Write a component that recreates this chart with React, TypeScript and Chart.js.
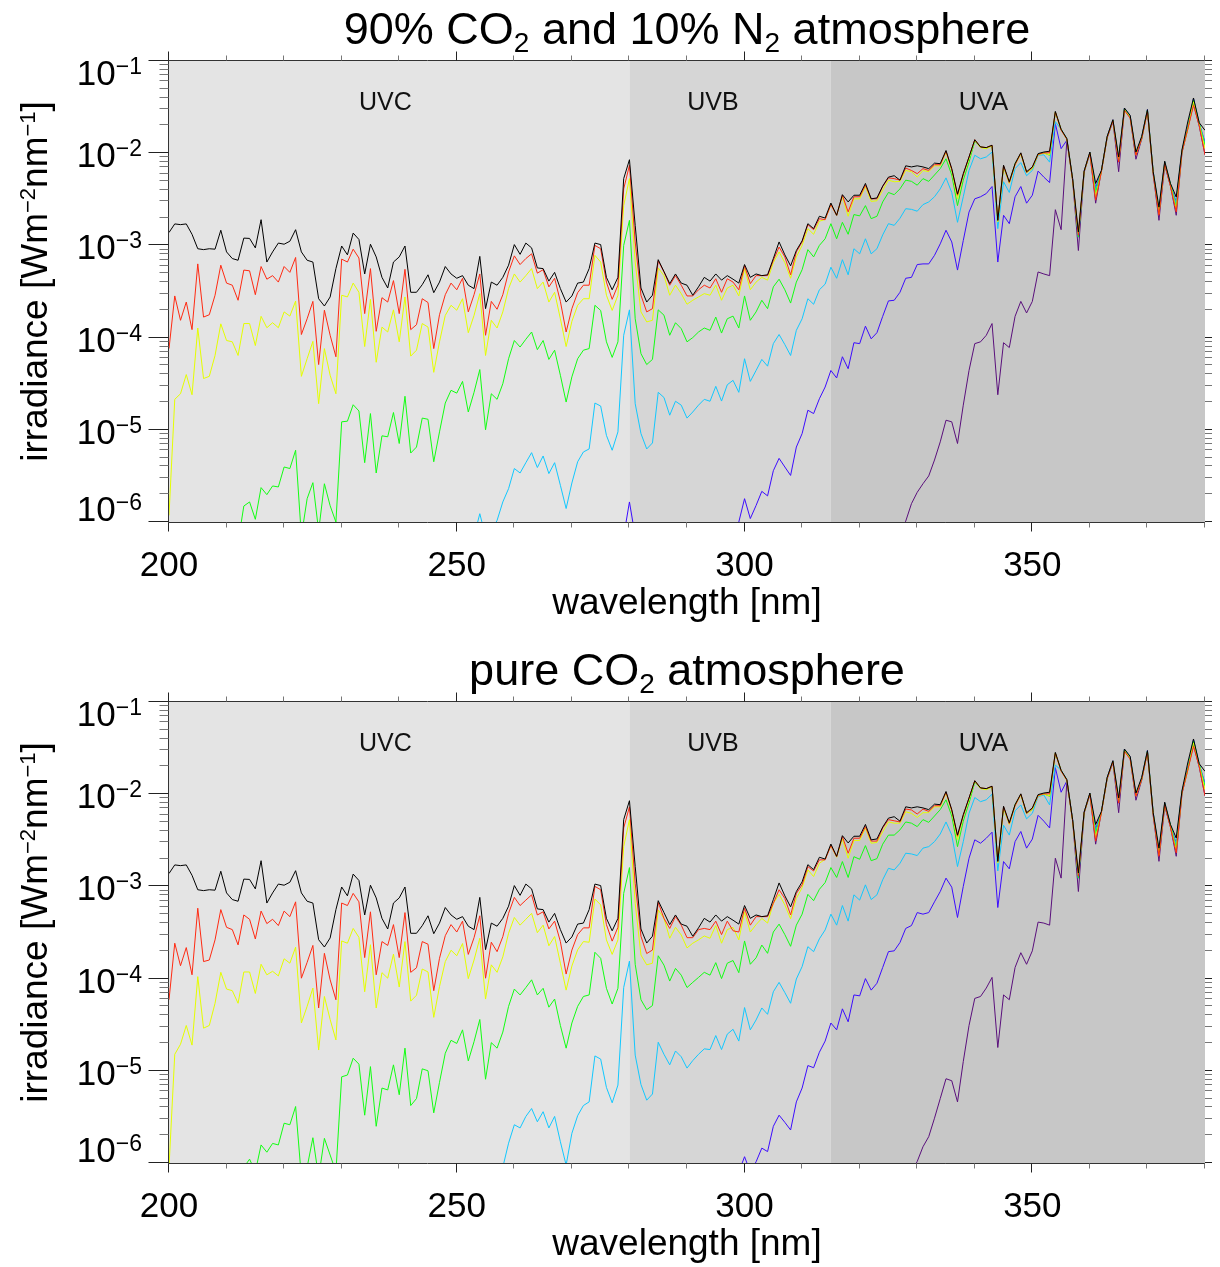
import React, { useEffect, useRef } from "react";
import { Chart, registerables } from "chart.js";

Chart.register(...registerables);

const FONT = '"Liberation Sans", Arial, Helvetica, sans-serif';

// ---------------- data ----------------
const WAVELENGTHS = [
  200, 201, 202, 203, 204, 205, 206, 207, 208, 209,
  210, 211, 212, 213, 214, 215, 216, 217, 218, 219,
  220, 221, 222, 223, 224, 225, 226, 227, 228, 229,
  230, 231, 232, 233, 234, 235, 236, 237, 238, 239,
  240, 241, 242, 243, 244, 245, 246, 247, 248, 249,
  250, 251, 252, 253, 254, 255, 256, 257, 258, 259,
  260, 261, 262, 263, 264, 265, 266, 267, 268, 269,
  270, 271, 272, 273, 274, 275, 276, 277, 278, 279,
  280, 281, 282, 283, 284, 285, 286, 287, 288, 289,
  290, 291, 292, 293, 294, 295, 296, 297, 298, 299,
  300, 301, 302, 303, 304, 305, 306, 307, 308, 309,
  310, 311, 312, 313, 314, 315, 316, 317, 318, 319,
  320, 321, 322, 323, 324, 325, 326, 327, 328, 329,
  330, 331, 332, 333, 334, 335, 336, 337, 338, 339,
  340, 341, 342, 343, 344, 345, 346, 347, 348, 349,
  350, 351, 352, 353, 354, 355, 356, 357, 358, 359,
  360, 361, 362, 363, 364, 365, 366, 367, 368, 369,
  370, 371, 372, 373, 374, 375, 376, 377, 378, 379,
  380,
];

// top-of-atmosphere spectrum (black), identical in both panels, from 200 nm
const TOA = [
  1.38e-3, 1.71e-3, 1.68e-3, 1.71e-3, 1.32e-3, 9.2e-4, 9.0e-4, 9.2e-4, 9.1e-4, 1.46e-3,
  8.5e-4, 7.2e-4, 6.9e-4, 1.2e-3, 1.19e-3, 9.4e-4, 1.9e-3, 6.6e-4, 8.5e-4, 1.06e-3,
  1.03e-3, 1.11e-3, 1.48e-3, 8.5e-4, 6.9e-4, 6.6e-4, 2.64e-4, 2.2e-4, 2.76e-4, 5.6e-4,
  9.85e-4, 7.9e-4, 1.36e-3, 1.16e-3, 4.9e-4, 1.03e-3, 7.5e-4, 4.5e-4, 3.45e-4, 6.6e-4,
  7.5e-4, 9.85e-4, 3.1e-4, 3.1e-4, 3.75e-4, 4.8e-4, 3.07e-4, 4.0e-4, 5.9e-4, 4.9e-4,
  4.4e-4, 4.7e-4, 3.7e-4, 3.4e-4, 7.6e-4, 2.06e-4, 4.0e-4, 3.7e-4, 4.5e-4, 6.1e-4,
  1.02e-3, 8.0e-4, 1.06e-3, 9.4e-4, 5.7e-4, 5.6e-4, 4.1e-4, 5.1e-4, 3.4e-4, 2.43e-4,
  2.83e-4, 3.9e-4, 4.0e-4, 5.6e-4, 1.06e-3, 1.02e-3, 4.5e-4, 3.3e-4, 4.5e-4, 5.3e-3,
  8.5e-3, 1.65e-3, 3.45e-4, 2.43e-4, 2.88e-4, 7.0e-4, 5.2e-4, 3.85e-4, 4.9e-4, 3.9e-4,
  3.7e-4, 2.88e-4, 3.55e-4, 4.5e-4, 4.1e-4, 4.9e-4, 4.2e-4, 4.7e-4, 4.3e-4, 3.9e-4,
  6.2e-4, 4.5e-4, 4.9e-4, 4.7e-4, 4.8e-4, 7.2e-4, 1.09e-3, 7.9e-4, 6.0e-4, 8.8e-4,
  1.12e-3, 1.72e-3, 1.52e-3, 2.07e-3, 1.98e-3, 2.88e-3, 2.12e-3, 3.55e-3, 2.96e-3, 3.5e-3,
  3.5e-3, 4.7e-3, 3.2e-3, 3.27e-3, 4.4e-3, 5.5e-3, 5.7e-3, 5.1e-3, 7.3e-3, 7.1e-3,
  7.3e-3, 7.1e-3, 6.8e-3, 7.8e-3, 7.7e-3, 1.07e-2, 6.8e-3, 3.6e-3, 6.0e-3, 9.1e-3,
  1.4e-2, 1.17e-2, 1.15e-2, 1.22e-2, 1.87e-3, 7.4e-3, 4.9e-3, 7.7e-3, 1.01e-2, 6.3e-3,
  7.1e-3, 9.9e-3, 1.03e-2, 1.05e-2, 2.84e-2, 1.82e-2, 1.44e-2, 5.3e-3, 1.4e-3, 6.4e-3,
  1.03e-2, 4.7e-3, 6.5e-3, 1.52e-2, 2.31e-2, 9.1e-3, 3.09e-2, 2.57e-2, 1.03e-2, 1.52e-2,
  2.97e-2, 6.3e-3, 2.6e-3, 8.2e-3, 4.7e-3, 3.35e-3, 1.09e-2, 2.18e-2, 3.97e-2, 2.14e-2,
  1.77e-2,
];

// ---- 90% CO2 / 10% N2 panel ----
const N2_RED_FROM = 200;
const N2_RED = [
  7.6e-5, 2.83e-4, 1.54e-4, 2.43e-4, 1.22e-4, 6.3e-4, 1.67e-4, 1.77e-4, 2.88e-4, 6.1e-4,
  3.9e-4, 3.7e-4, 2.54e-4, 5.4e-4, 5.3e-4, 2.92e-4, 5.9e-4, 4.3e-4, 4.7e-4, 4.0e-4,
  5.9e-4, 5.1e-4, 7.4e-4, 1.08e-4, 1.6e-4, 2.47e-4, 5.1e-5, 1.98e-4, 1.06e-4, 6.2e-5,
  7.1e-4, 6.6e-4, 9.1e-4, 7.3e-4, 1.82e-4, 5.6e-4, 1.17e-4, 2.71e-4, 2.43e-4, 4.15e-4,
  1.82e-4, 5.5e-4, 1.22e-4, 1.38e-4, 2.64e-4, 2.4e-4, 7.6e-5, 1.77e-4, 2.92e-4, 3.9e-4,
  3.3e-4, 4.4e-4, 1.9e-4, 2.92e-4, 4.9e-4, 1.06e-4, 2.47e-4, 2.03e-4, 2.92e-4, 5.15e-4,
  7.7e-4, 6.2e-4, 7.2e-4, 8.1e-4, 5.0e-4, 5.45e-4, 3.55e-4, 4.4e-4, 2.47e-4, 1.15e-4,
  2.06e-4, 3.07e-4, 3.7e-4, 3.7e-4, 1.0e-3, 9.2e-4, 4.0e-4, 2.6e-4, 3.7e-4, 4.1e-3,
  7.4e-3, 1.09e-3, 2.88e-4, 1.9e-4, 2.06e-4, 6.8e-4, 5.15e-4, 3.7e-4, 4.7e-4, 3.7e-4,
  2.83e-4, 2.83e-4, 3.3e-4, 3.7e-4, 3.45e-4, 4.35e-4, 3.1e-4, 4.35e-4, 4.0e-4, 3.3e-4,
  6.0e-4, 3.85e-4, 4.7e-4, 4.7e-4, 4.7e-4, 6.9e-4, 9.6e-4, 7.5e-4, 4.8e-4, 8.5e-4,
  1.09e-3, 1.68e-3, 1.48e-3, 1.95e-3, 1.9e-3, 2.77e-3, 2.12e-3, 3.5e-3, 2.31e-3, 3.37e-3,
  3.37e-3, 4.5e-3, 3.2e-3, 3.2e-3, 4.35e-3, 5.4e-3, 5.3e-3, 5.1e-3, 6.9e-3, 6.5e-3,
  6.0e-3, 6.8e-3, 6.5e-3, 7.5e-3, 7.5e-3, 1.05e-2, 6.7e-3, 3.5e-3, 5.85e-3, 9.1e-3,
  1.4e-2, 1.17e-2, 1.15e-2, 1.22e-2, 1.87e-3, 7.3e-3, 4.8e-3, 7.5e-3, 1.0e-2, 6.2e-3,
  7.0e-3, 9.7e-3, 1.01e-2, 1.01e-2, 2.8e-2, 1.78e-2, 1.42e-2, 5.1e-3, 1.29e-3, 6.3e-3,
  1.0e-2, 3.1e-3, 6.3e-3, 1.48e-2, 2.24e-2, 8.0e-3, 2.92e-2, 2.4e-2, 9.5e-3, 1.44e-2,
  2.84e-2, 6.0e-3, 2.12e-3, 7.7e-3, 4.4e-3, 2.31e-3, 1.03e-2, 1.82e-2, 3.3e-2, 2.0e-2,
  9.6e-3,
];

const N2_YELLOW_FROM = 200;
const N2_YELLOW = [
  1.18e-6, 2.14e-5, 2.46e-5, 3.97e-5, 2.4e-5, 1.27e-4, 3.6e-5, 3.8e-5, 6.4e-5, 1.41e-4,
  9.3e-5, 9.0e-5, 6.4e-5, 1.42e-4, 1.42e-4, 8.2e-5, 1.7e-4, 1.28e-4, 1.45e-4, 1.28e-4,
  1.9e-4, 1.71e-4, 2.49e-4, 3.8e-5, 5.9e-5, 9.1e-5, 1.92e-5, 7.6e-5, 3.9e-5, 2.46e-5,
  2.88e-4, 2.76e-4, 3.9e-4, 3.1e-4, 8.0e-5, 2.6e-4, 5.4e-5, 1.3e-4, 1.15e-4, 2.0e-4,
  9.0e-5, 2.76e-4, 6.3e-5, 7.3e-5, 1.42e-4, 1.3e-4, 4.2e-5, 9.0e-5, 1.74e-4, 2.24e-4,
  1.98e-4, 2.64e-4, 1.13e-4, 1.74e-4, 3.0e-4, 6.4e-5, 1.54e-4, 1.27e-4, 1.9e-4, 3.4e-4,
  4.9e-4, 4.0e-4, 4.7e-4, 5.6e-4, 3.4e-4, 4.0e-4, 2.43e-4, 3.1e-4, 1.6e-4, 8.0e-5,
  1.5e-4, 2.24e-4, 2.64e-4, 2.64e-4, 7.8e-4, 6.6e-4, 2.88e-4, 1.97e-4, 2.88e-4, 2.7e-3,
  5.3e-3, 6.6e-4, 1.9e-4, 1.48e-4, 1.54e-4, 5.7e-4, 4.7e-4, 2.88e-4, 3.7e-4, 3.0e-4,
  2.3e-4, 2.54e-4, 2.76e-4, 3.0e-4, 2.88e-4, 3.7e-4, 2.54e-4, 3.45e-4, 3.7e-4, 2.83e-4,
  5.6e-4, 3.3e-4, 4.0e-4, 4.5e-4, 4.2e-4, 6.5e-4, 8.5e-4, 6.5e-4, 4.4e-4, 7.5e-4,
  1.0e-3, 1.52e-3, 1.32e-3, 1.83e-3, 1.91e-3, 2.77e-3, 2.12e-3, 3.37e-3, 2.07e-3, 3.2e-3,
  3.2e-3, 4.35e-3, 3.0e-3, 3.05e-3, 3.97e-3, 5.1e-3, 4.9e-3, 4.95e-3, 6.5e-3, 6.3e-3,
  5.5e-3, 6.5e-3, 6.3e-3, 7.3e-3, 7.3e-3, 1.03e-2, 6.5e-3, 3.2e-3, 5.8e-3, 8.7e-3,
  1.38e-2, 1.15e-2, 1.12e-2, 1.2e-2, 1.8e-3, 7.1e-3, 4.7e-3, 7.5e-3, 9.8e-3, 6.2e-3,
  6.8e-3, 9.6e-3, 1.0e-2, 9.6e-3, 2.8e-2, 1.8e-2, 1.42e-2, 5.1e-3, 1.33e-3, 6.3e-3,
  1.01e-2, 3.37e-3, 6.3e-3, 1.49e-2, 2.26e-2, 8.1e-3, 2.97e-2, 2.45e-2, 9.6e-3, 1.45e-2,
  2.88e-2, 6.2e-3, 2.2e-3, 7.8e-3, 4.5e-3, 2.45e-3, 1.05e-2, 1.8e-2, 3.6e-2, 2.05e-2,
  1.12e-2,
];

const N2_GREEN_FROM = 212;
const N2_GREEN = [
  6e-7, 1.49e-6, 1.65e-6, 1.07e-6, 2.36e-6, 1.98e-6, 2.46e-6, 2.4e-6,
  3.95e-6, 3.8e-6, 6.0e-6, 7e-7, 1.79e-6, 2.67e-6, 8e-7, 2.6e-6, 1.5e-6, 1.0e-6,
  1.22e-5, 1.24e-5, 1.87e-5, 1.6e-5, 4.4e-6, 1.5e-5, 3.4e-6, 8.6e-6, 8.4e-6, 1.54e-5,
  7.1e-6, 2.31e-5, 5.6e-6, 6.5e-6, 1.34e-5, 1.3e-5, 4.5e-6, 9.5e-6, 1.95e-5, 2.68e-5,
  2.5e-5, 3.35e-5, 1.56e-5, 2.55e-5, 4.5e-5, 1.0e-5, 2.46e-5, 2.14e-5, 3.16e-5, 5.9e-5,
  9.3e-5, 7.9e-5, 9.6e-5, 1.15e-4, 7.4e-5, 9.3e-5, 5.8e-5, 7.3e-5, 3.9e-5, 2.0e-5,
  3.75e-5, 5.9e-5, 7.3e-5, 7.6e-5, 2.24e-4, 1.97e-4, 9.0e-5, 6.1e-5, 9.0e-5, 1.0e-3,
  1.87e-3, 1.6e-4, 6.7e-5, 5.1e-5, 5.8e-5, 2.0e-4, 1.75e-4, 1.06e-4, 1.45e-4, 1.25e-4,
  9.0e-5, 1.0e-4, 1.15e-4, 1.27e-4, 1.2e-4, 1.67e-4, 1.12e-4, 1.6e-4, 1.71e-4, 1.27e-4,
  2.83e-4, 1.54e-4, 1.9e-4, 2.54e-4, 2.06e-4, 3.55e-4, 4.3e-4, 3.3e-4, 2.37e-4, 4.0e-4,
  5.45e-4, 9.0e-4, 7.5e-4, 1.0e-3, 1.18e-3, 1.72e-3, 1.18e-3, 1.78e-3, 1.32e-3, 2.16e-3,
  2.09e-3, 2.7e-3, 1.95e-3, 2.07e-3, 2.96e-3, 3.75e-3, 3.55e-3, 4.1e-3, 5.1e-3, 4.95e-3,
  4.5e-3, 5.3e-3, 4.95e-3, 5.8e-3, 6.8e-3, 8.7e-3, 5.8e-3, 2.7e-3, 5.1e-3, 8.0e-3,
  1.35e-2, 1.17e-2, 1.14e-2, 1.2e-2, 1.87e-3, 7.1e-3, 4.8e-3, 7.7e-3, 9.9e-3, 6.2e-3,
  6.8e-3, 9.8e-3, 1.01e-2, 9.5e-3, 2.8e-2, 1.8e-2, 1.42e-2, 5.2e-3, 1.23e-3, 6.3e-3,
  1.01e-2, 3.75e-3, 6.4e-3, 1.49e-2, 2.26e-2, 8.5e-3, 2.98e-2, 2.47e-2, 9.8e-3, 1.46e-2,
  2.92e-2, 6.2e-3, 2.31e-3, 7.9e-3, 4.6e-3, 2.6e-3, 1.06e-2, 1.85e-2, 3.75e-2, 2.1e-2,
  1.22e-2,
];

const N2_CYAN_FROM = 253;
const N2_CYAN = [
  7e-7, 1.23e-6, 7e-7, 8e-7, 1.04e-6, 1.65e-6, 2.3e-6,
  3.8e-6, 3.4e-6, 4.4e-6, 5.65e-6, 3.9e-6, 5.2e-6, 3.35e-6, 4.4e-6, 2.5e-6, 1.4e-6,
  2.65e-6, 4.5e-6, 5.75e-6, 6.2e-6, 1.95e-5, 1.81e-5, 8.7e-6, 6.0e-6, 9.5e-6, 1.06e-4,
  2.0e-4, 1.92e-5, 9.1e-6, 6.2e-6, 7.2e-6, 2.55e-5, 2.24e-5, 1.44e-5, 2.04e-5, 1.85e-5,
  1.34e-5, 1.56e-5, 1.85e-5, 2.14e-5, 2.04e-5, 2.96e-5, 2.05e-5, 3.08e-5, 3.44e-5, 2.55e-5,
  5.9e-5, 3.35e-5, 4.4e-5, 5.8e-5, 4.9e-5, 8.6e-5, 1.08e-4, 8.4e-5, 6.4e-5, 1.2e-4,
  1.6e-4, 2.64e-4, 2.3e-4, 3.3e-4, 3.8e-4, 5.8e-4, 4.4e-4, 7.0e-4, 4.8e-4, 9.2e-4,
  8.1e-4, 1.18e-3, 8.1e-4, 9.2e-4, 1.3e-3, 1.72e-3, 1.65e-3, 1.97e-3, 2.5e-3, 2.46e-3,
  2.35e-3, 2.77e-3, 2.96e-3, 3.37e-3, 4.1e-3, 5.4e-3, 3.75e-3, 1.78e-3, 3.37e-3, 6.5e-3,
  9.5e-3, 8.7e-3, 9.1e-3, 1.03e-2, 1.52e-3, 4.9e-3, 3.75e-3, 6.8e-3, 7.9e-3, 5.7e-3,
  6.5e-3, 9.5e-3, 9.6e-3, 8.0e-3, 2.2e-2, 1.82e-2, 1.44e-2, 5.2e-3, 1.23e-3, 6.3e-3,
  1.01e-2, 3.95e-3, 6.4e-3, 1.5e-2, 2.28e-2, 8.7e-3, 3.05e-2, 2.5e-2, 9.9e-3, 1.48e-2,
  2.95e-2, 6.3e-3, 2.4e-3, 8.0e-3, 4.65e-3, 2.8e-3, 1.07e-2, 1.87e-2, 3.85e-2, 2.1e-2,
  1.27e-2,
];

const N2_BLUE_FROM = 279;
const N2_BLUE = [
  7e-7,
  1.65e-6, 7e-7, null, null, null, null, null, null, null, null,
  null, null, null, null, null, null, null, null, 8e-7, 1.0e-6,
  1.79e-6, 1.09e-6, 1.51e-6, 2.15e-6, 1.92e-6, 3.6e-6, 4.9e-6, 3.95e-6, 3.2e-6, 6.5e-6,
  9.1e-6, 1.63e-5, 1.5e-5, 2.17e-5, 2.91e-5, 4.4e-5, 3.65e-5, 6.2e-5, 4.6e-5, 8.8e-5,
  8.6e-5, 1.33e-4, 9.7e-5, 1.13e-4, 1.7e-4, 2.5e-4, 2.54e-4, 3.1e-4, 4.4e-4, 4.5e-4,
  6.2e-4, 6.3e-4, 6.3e-4, 7.8e-4, 1.04e-3, 1.46e-3, 1.09e-3, 5.4e-4, 1.13e-3, 2.3e-3,
  3.2e-3, 3.37e-3, 3.65e-3, 4.35e-3, 6.6e-4, 2.12e-3, 1.72e-3, 3.37e-3, 4.35e-3, 2.87e-3,
  3.5e-3, 6.4e-3, 5.5e-3, 4.8e-3, 2.09e-2, 1.12e-2, 1.38e-2, 5.3e-3, 1.23e-3, 6.4e-3,
  1.02e-2, 4.2e-3, 6.4e-3, 1.51e-2, 2.3e-2, 8.0e-3, 3.07e-2, 2.53e-2, 9.6e-3, 1.49e-2,
  2.97e-2, 6.3e-3, 2.31e-3, 8.0e-3, 4.5e-3, 2.96e-3, 1.07e-2, 1.89e-2, 3.9e-2, 2.1e-2,
  1.32e-2,
];

const N2_PURPLE_FROM = 327;
const N2_PURPLE = [
  8e-7, 1.02e-6, 1.58e-6,
  2.1e-6, 2.6e-6, 3.16e-6, 4.7e-6, 7.4e-6, 1.27e-5, 1.22e-5, 7.1e-6, 1.85e-5, 4.4e-5,
  8.6e-5, 9.0e-5, 1.06e-4, 1.42e-4, 2.4e-5, 8.8e-5, 7.8e-5, 1.7e-4, 2.47e-4, 1.85e-4,
  2.47e-4, 5.15e-4, 4.9e-4, 4.7e-4, 2.44e-3, 1.48e-3, 1.38e-2, 5.1e-3, 8.8e-4, 6.2e-3,
  1.0e-2, 2.87e-3, 6.4e-3, 1.46e-2, 2.22e-2, 6.3e-3, 2.98e-2, 2.43e-2, 8.6e-3, 1.42e-2,
  2.87e-2, 5.9e-3, 1.87e-3, 7.4e-3, 4.4e-3, 2.12e-3, 1.01e-2, 1.83e-2, 3.45e-2, 1.96e-2,
  9.6e-3,
];

// ---- pure CO2 panel ----
const CO2_RED_FROM = 200;
const CO2_RED = [
  5.9e-5, 2.42e-4, 1.38e-4, 2.17e-4, 1.1e-4, 5.8e-4, 1.53e-4, 1.59e-4, 2.63e-4, 5.6e-4,
  3.6e-4, 3.4e-4, 2.32e-4, 4.9e-4, 4.4e-4, 2.69e-4, 5.4e-4, 3.95e-4, 4.4e-4, 3.76e-4,
  5.4e-4, 4.7e-4, 6.8e-4, 1.01e-4, 1.5e-4, 2.29e-4, 4.8e-5, 1.88e-4, 9.7e-5, 5.9e-5,
  6.6e-4, 6.2e-4, 8.4e-4, 6.8e-4, 1.69e-4, 5.3e-4, 1.1e-4, 2.52e-4, 2.29e-4, 3.85e-4,
  1.69e-4, 5.2e-4, 1.17e-4, 1.31e-4, 2.52e-4, 2.36e-4, 7.4e-5, 1.66e-4, 2.92e-4, 3.85e-4,
  3.2e-4, 4.2e-4, 1.83e-4, 2.78e-4, 4.8e-4, 1.01e-4, 2.48e-4, 1.96e-4, 2.85e-4, 5.1e-4,
  7.6e-4, 6.2e-4, 7.1e-4, 8.1e-4, 4.9e-4, 5.3e-4, 3.46e-4, 4.2e-4, 2.52e-4, 1.12e-4,
  2.04e-4, 3.0e-4, 3.55e-4, 3.55e-4, 1.0e-3, 9.2e-4, 3.85e-4, 2.55e-4, 3.6e-4, 4.3e-3,
  7.3e-3, 1.08e-3, 2.88e-4, 1.87e-4, 2.04e-4, 6.7e-4, 4.5e-4, 3.5e-4, 4.7e-4, 3.8e-4,
  2.78e-4, 2.78e-4, 3.4e-4, 3.5e-4, 3.4e-4, 4.2e-4, 3.0e-4, 4.2e-4, 3.3e-4, 3.2e-4,
  5.8e-4, 3.8e-4, 4.7e-4, 4.7e-4, 4.7e-4, 6.55e-4, 9.2e-4, 7.4e-4, 4.9e-4, 8.4e-4,
  1.04e-3, 1.64e-3, 1.47e-3, 1.94e-3, 1.94e-3, 2.77e-3, 2.1e-3, 3.47e-3, 2.29e-3, 3.33e-3,
  3.33e-3, 4.45e-3, 3.1e-3, 3.1e-3, 4.3e-3, 5.3e-3, 5.15e-3, 5.0e-3, 6.9e-3, 6.75e-3,
  6.1e-3, 6.9e-3, 6.5e-3, 7.5e-3, 7.5e-3, 1.05e-2, 6.7e-3, 3.5e-3, 5.85e-3, 9.1e-3,
  1.4e-2, 1.17e-2, 1.15e-2, 1.22e-2, 1.87e-3, 7.3e-3, 4.8e-3, 7.5e-3, 1.0e-2, 6.2e-3,
  7.0e-3, 9.7e-3, 1.01e-2, 1.01e-2, 2.8e-2, 1.78e-2, 1.42e-2, 5.1e-3, 1.29e-3, 6.3e-3,
  1.0e-2, 3.1e-3, 6.3e-3, 1.48e-2, 2.24e-2, 8.0e-3, 2.92e-2, 2.4e-2, 9.5e-3, 1.44e-2,
  2.84e-2, 6.0e-3, 2.12e-3, 7.7e-3, 4.4e-3, 2.31e-3, 1.03e-2, 1.82e-2, 3.3e-2, 2.0e-2,
  9.6e-3,
];

const CO2_YELLOW_FROM = 200;
const CO2_YELLOW = [
  9e-7, 1.51e-5, 1.94e-5, 3.1e-5, 1.9e-5, 1.05e-4, 2.9e-5, 3.1e-5, 5.4e-5, 1.17e-4,
  7.7e-5, 7.4e-5, 5.4e-5, 1.18e-4, 1.18e-4, 6.9e-5, 1.43e-4, 1.1e-4, 1.2e-4, 1.07e-4,
  1.64e-4, 1.47e-4, 2.19e-4, 3.3e-5, 5.0e-5, 7.9e-5, 1.68e-5, 6.4e-5, 3.6e-5, 2.16e-5,
  2.56e-4, 2.42e-4, 3.5e-4, 2.8e-4, 7.2e-5, 2.33e-4, 4.8e-5, 1.16e-4, 1.01e-4, 1.84e-4,
  8.1e-5, 2.52e-4, 5.7e-5, 6.6e-5, 1.27e-4, 1.18e-4, 3.8e-5, 8.2e-5, 1.53e-4, 2.03e-4,
  1.77e-4, 2.4e-4, 1.0e-4, 1.59e-4, 2.74e-4, 6.0e-5, 1.41e-4, 1.17e-4, 1.72e-4, 3.1e-4,
  4.6e-4, 3.8e-4, 4.4e-4, 5.1e-4, 3.15e-4, 3.8e-4, 2.27e-4, 2.86e-4, 1.47e-4, 7.5e-5,
  1.37e-4, 2.05e-4, 2.52e-4, 2.48e-4, 7.3e-4, 6.3e-4, 2.63e-4, 1.83e-4, 2.63e-4, 2.7e-3,
  5.3e-3, 6.55e-4, 1.8e-4, 1.41e-4, 1.47e-4, 5.55e-4, 4.5e-4, 2.74e-4, 3.6e-4, 2.97e-4,
  2.15e-4, 2.42e-4, 2.63e-4, 2.9e-4, 2.74e-4, 3.76e-4, 2.42e-4, 3.4e-4, 3.6e-4, 2.63e-4,
  5.3e-4, 3.2e-4, 3.85e-4, 4.5e-4, 4.0e-4, 6.55e-4, 8.2e-4, 6.3e-4, 4.45e-4, 7.4e-4,
  9.7e-4, 1.51e-3, 1.28e-3, 1.78e-3, 1.97e-3, 2.77e-3, 2.07e-3, 3.27e-3, 2.02e-3, 3.15e-3,
  3.15e-3, 4.3e-3, 2.94e-3, 3.0e-3, 3.9e-3, 5.0e-3, 4.85e-3, 4.85e-3, 6.45e-3, 6.2e-3,
  5.6e-3, 6.3e-3, 6.3e-3, 7.3e-3, 7.3e-3, 1.03e-2, 6.5e-3, 3.2e-3, 5.8e-3, 8.7e-3,
  1.38e-2, 1.15e-2, 1.12e-2, 1.2e-2, 1.8e-3, 7.1e-3, 4.7e-3, 7.5e-3, 9.8e-3, 6.2e-3,
  6.8e-3, 9.6e-3, 1.0e-2, 9.6e-3, 2.8e-2, 1.8e-2, 1.42e-2, 5.1e-3, 1.33e-3, 6.3e-3,
  1.01e-2, 3.37e-3, 6.3e-3, 1.49e-2, 2.26e-2, 8.1e-3, 2.97e-2, 2.45e-2, 9.6e-3, 1.45e-2,
  2.88e-2, 6.2e-3, 2.2e-3, 7.8e-3, 4.5e-3, 2.45e-3, 1.05e-2, 1.8e-2, 3.6e-2, 2.05e-2,
  1.12e-2,
];

const CO2_GREEN_FROM = 213;
const CO2_GREEN = [
  9e-7, 1.1e-6, 8e-7, 1.57e-6, 1.31e-6, 1.63e-6, 1.57e-6,
  2.7e-6, 2.6e-6, 4.1e-6, 7e-7, 9e-7, 1.88e-6, 7e-7, 1.85e-6, 1.22e-6, 8e-7,
  8.6e-6, 9.0e-6, 1.37e-5, 1.18e-5, 3.3e-6, 1.11e-5, 2.5e-6, 6.5e-6, 6.2e-6, 1.16e-5,
  5.5e-6, 1.76e-5, 4.2e-6, 5.0e-6, 1.05e-5, 1.0e-5, 3.5e-6, 7.5e-6, 1.55e-5, 2.14e-5,
  1.98e-5, 2.78e-5, 1.28e-5, 2.07e-5, 3.6e-5, 8.1e-6, 2.02e-5, 1.76e-5, 2.63e-5, 5.0e-5,
  7.7e-5, 6.65e-5, 8.0e-5, 9.7e-5, 6.65e-5, 7.85e-5, 4.9e-5, 6.0e-5, 3.1e-5, 1.76e-5,
  3.3e-5, 5.0e-5, 6.4e-5, 6.65e-5, 1.93e-4, 1.66e-4, 7.85e-5, 5.3e-5, 7.85e-5, 8.4e-4,
  1.6e-3, 1.43e-4, 5.9e-5, 4.6e-5, 5.1e-5, 1.77e-4, 1.4e-4, 9.4e-5, 1.29e-4, 1.09e-4,
  8.0e-5, 9.1e-5, 1.03e-4, 1.17e-4, 1.09e-4, 1.49e-4, 1.0e-4, 1.47e-4, 1.57e-4, 1.16e-4,
  2.56e-4, 1.43e-4, 1.68e-4, 2.31e-4, 1.88e-4, 3.2e-4, 3.9e-4, 3.0e-4, 2.24e-4, 3.8e-4,
  5.0e-4, 8.2e-4, 7.0e-4, 9.3e-4, 1.1e-3, 1.6e-3, 1.25e-3, 1.86e-3, 1.25e-3, 2.1e-3,
  1.97e-3, 2.77e-3, 1.9e-3, 2.0e-3, 2.87e-3, 3.6e-3, 3.6e-3, 4.1e-3, 5.0e-3, 4.85e-3,
  4.45e-3, 5.3e-3, 4.95e-3, 5.8e-3, 6.8e-3, 8.7e-3, 5.8e-3, 2.7e-3, 5.1e-3, 8.0e-3,
  1.35e-2, 1.17e-2, 1.14e-2, 1.2e-2, 1.87e-3, 7.1e-3, 4.8e-3, 7.7e-3, 9.9e-3, 6.2e-3,
  6.8e-3, 9.8e-3, 1.01e-2, 9.5e-3, 2.8e-2, 1.8e-2, 1.42e-2, 5.2e-3, 1.23e-3, 6.3e-3,
  1.01e-2, 3.75e-3, 6.4e-3, 1.49e-2, 2.26e-2, 8.5e-3, 2.98e-2, 2.47e-2, 9.8e-3, 1.46e-2,
  2.92e-2, 6.2e-3, 2.31e-3, 7.9e-3, 4.6e-3, 2.6e-3, 1.06e-2, 1.85e-2, 3.75e-2, 2.1e-2,
  1.22e-2,
];

const CO2_CYAN_FROM = 258;
const CO2_CYAN = [
  9e-7, 1.64e-6,
  2.6e-6, 2.4e-6, 3.2e-6, 3.9e-6, 2.8e-6, 3.6e-6, 2.4e-6, 3.2e-6, 1.7e-6, 9.5e-7,
  2.1e-6, 3.26e-6, 4.2e-6, 4.6e-6, 1.45e-5, 1.34e-5, 6.6e-6, 4.5e-6, 7.0e-6, 8.0e-5,
  1.55e-4, 1.48e-5, 7.1e-6, 4.8e-6, 5.6e-6, 2.04e-5, 1.51e-5, 1.16e-5, 1.64e-5, 1.42e-5,
  1.07e-5, 1.29e-5, 1.51e-5, 1.73e-5, 1.7e-5, 2.41e-5, 1.7e-5, 2.5e-5, 2.82e-5, 2.1e-5,
  4.85e-5, 2.78e-5, 3.56e-5, 4.8e-5, 4.1e-5, 7.2e-5, 9.1e-5, 7.05e-5, 5.4e-5, 9.9e-5,
  1.35e-4, 2.22e-4, 1.96e-4, 2.7e-4, 3.37e-4, 5.0e-4, 3.8e-4, 6.2e-4, 4.2e-4, 8.1e-4,
  7.1e-4, 1.04e-3, 7.2e-4, 8.1e-4, 1.18e-3, 1.57e-3, 1.51e-3, 1.78e-3, 2.29e-3, 2.25e-3,
  2.16e-3, 2.6e-3, 2.7e-3, 3.06e-3, 3.7e-3, 5.0e-3, 3.6e-3, 1.64e-3, 3.06e-3, 6.2e-3,
  9.2e-3, 8.3e-3, 8.7e-3, 1.0e-2, 1.47e-3, 4.6e-3, 3.6e-3, 6.6e-3, 7.65e-3, 5.4e-3,
  6.2e-3, 9.4e-3, 9.8e-3, 7.65e-3, 2.07e-2, 1.82e-2, 1.44e-2, 5.2e-3, 1.23e-3, 6.3e-3,
  1.01e-2, 3.95e-3, 6.4e-3, 1.5e-2, 2.28e-2, 8.7e-3, 3.05e-2, 2.5e-2, 9.9e-3, 1.48e-2,
  2.95e-2, 6.3e-3, 2.4e-3, 8.0e-3, 4.65e-3, 2.8e-3, 1.07e-2, 1.87e-2, 3.85e-2, 2.1e-2,
  1.27e-2,
];

const CO2_BLUE_FROM = 299;
const CO2_BLUE = [
  8e-7,
  1.17e-6, 8e-7, 1.03e-6, 1.45e-6, 1.33e-6, 2.5e-6, 3.3e-6, 2.76e-6, 2.28e-6, 4.6e-6,
  6.5e-6, 1.14e-5, 1.08e-5, 1.59e-5, 2.1e-5, 3.3e-5, 2.78e-5, 4.7e-5, 3.4e-5, 6.65e-5,
  6.5e-5, 1.0e-4, 7.5e-5, 8.9e-5, 1.32e-4, 1.96e-4, 2.0e-4, 2.46e-4, 3.5e-4, 3.76e-4,
  5.2e-4, 5.0e-4, 5.2e-4, 6.8e-4, 8.8e-4, 1.23e-3, 9.8e-4, 4.6e-4, 1.0e-3, 2.02e-3,
  3.2e-3, 2.94e-3, 3.33e-3, 3.87e-3, 5.9e-4, 1.86e-3, 1.55e-3, 3.06e-3, 3.94e-3, 2.6e-3,
  3.26e-3, 5.9e-3, 5.1e-3, 4.3e-3, 1.94e-2, 1.05e-2, 1.39e-2, 5.3e-3, 1.23e-3, 6.4e-3,
  1.02e-2, 4.2e-3, 6.4e-3, 1.51e-2, 2.3e-2, 8.0e-3, 3.07e-2, 2.53e-2, 9.6e-3, 1.49e-2,
  2.97e-2, 6.3e-3, 2.31e-3, 8.0e-3, 4.5e-3, 2.96e-3, 1.07e-2, 1.89e-2, 3.9e-2, 2.1e-2,
  1.32e-2,
];

const CO2_PURPLE_FROM = 329;
const CO2_PURPLE = [
  8e-7,
  1.04e-6, 1.5e-6, 1.93e-6, 3.06e-6, 5.0e-6, 8.2e-6, 7.8e-6, 4.6e-6, 1.26e-5, 3.1e-5,
  6.1e-5, 6.4e-5, 7.9e-5, 1.03e-4, 1.79e-5, 6.65e-5, 5.9e-5, 1.32e-4, 1.91e-4, 1.43e-4,
  2.0e-4, 4.1e-4, 4.0e-4, 3.8e-4, 2.02e-3, 1.23e-3, 1.39e-2, 5.2e-3, 8.8e-4, 6.2e-3,
  1.0e-2, 2.87e-3, 6.4e-3, 1.46e-2, 2.22e-2, 6.3e-3, 2.98e-2, 2.43e-2, 8.6e-3, 1.42e-2,
  2.87e-2, 5.9e-3, 1.87e-3, 7.4e-3, 4.4e-3, 2.12e-3, 1.01e-2, 1.83e-2, 3.45e-2, 1.96e-2,
  9.6e-3,
];

// axis / band definitions
const X_MIN = 200;
const X_MAX = 380;
const Y_MIN = 1e-6;
const Y_MAX = 1e-1;
const X_TICKS = [200, 210, 220, 230, 240, 250, 260, 270, 280, 290, 300, 310, 320, 330, 340, 350, 360, 370, 380];
const X_TICK_LABELS = [200, 250, 300, 350];
const Y_DECADES = [-6, -5, -4, -3, -2, -1];
const Y_MINOR_MULTIPLIERS = [2, 3, 4, 5, 6, 7, 8, 9];
const BAND_NAMES = ["UVC", "UVB", "UVA"];
const BAND_EDGES = [200, 280, 315, 380];
const BAND_LABEL_AT = [237.6, 294.5, 341.5];
const BAND_COLORS = ["#e4e4e4", "#d6d6d6", "#c7c7c7"];

const SERIES_COLORS = ["#000000", "#ff2a12", "#e4ff00", "#12ff12", "#12c8ff", "#3c0cff", "#5a0f7c"];

type Run = { t: string; k?: "sup" | "sub" };
const TITLE_TOP: Run[] = [{ t: "90% CO" }, { t: "2", k: "sub" }, { t: " and 10% N" }, { t: "2", k: "sub" }, { t: " atmosphere" }];
const TITLE_BOTTOM: Run[] = [{ t: "pure CO" }, { t: "2", k: "sub" }, { t: " atmosphere" }];
const X_TITLE: Run[] = [{ t: "wavelength [nm]" }];
const Y_TITLE: Run[] = [{ t: "irradiance [Wm" }, { t: "\u22122", k: "sup" }, { t: "nm" }, { t: "\u22121", k: "sup" }, { t: "]" }];

// ---------------- helpers ----------------
function toPoints(from: number, values: (number | null)[]) {
  const start = WAVELENGTHS.indexOf(from);
  return values.map((v, i) => ({ x: WAVELENGTHS[start + i], y: v }));
}

function drawRuns(
  ctx: CanvasRenderingContext2D,
  runs: Run[],
  x: number,
  y: number,
  size: number,
  align: "left" | "center" | "right",
  smallSize: number,
  supRise: number,
  subDrop: number
) {
  const sizes = runs.map((r) => (r.k ? smallSize : size));
  const widths = runs.map((r, i) => {
    ctx.font = `${sizes[i]}px ${FONT}`;
    return ctx.measureText(r.t).width;
  });
  const total = widths.reduce((a, b) => a + b, 0);
  let cx = align === "left" ? x : align === "center" ? x - total / 2 : x - total;
  ctx.textAlign = "left";
  ctx.textBaseline = "alphabetic";
  runs.forEach((r, i) => {
    ctx.font = `${sizes[i]}px ${FONT}`;
    const dy = r.k === "sup" ? -supRise : r.k === "sub" ? subDrop : 0;
    ctx.fillText(r.t, cx, y + dy);
    cx += widths[i];
  });
}

function makeDecor(title: Run[]) {
  return {
    id: "idlDecor",
    beforeDatasetsDraw(chart: any) {
      const { ctx, chartArea: a, scales } = chart;
      const xs = scales.x;
      ctx.save();
      for (let i = 0; i < BAND_NAMES.length; i++) {
        const x0 = xs.getPixelForValue(BAND_EDGES[i]);
        const x1 = xs.getPixelForValue(BAND_EDGES[i + 1]);
        ctx.fillStyle = BAND_COLORS[i];
        ctx.fillRect(x0, a.top, x1 - x0, a.bottom - a.top);
      }
      ctx.fillStyle = "#111";
      ctx.font = `25px ${FONT}`;
      ctx.textAlign = "center";
      ctx.textBaseline = "alphabetic";
      for (let i = 0; i < BAND_NAMES.length; i++) {
        ctx.fillText(BAND_NAMES[i], xs.getPixelForValue(BAND_LABEL_AT[i]), a.top + 49);
      }
      ctx.restore();
    },
    afterDraw(chart: any) {
      const { ctx, chartArea: a, scales } = chart;
      const xs = scales.x;
      const ys = scales.y;
      ctx.save();
      ctx.lineWidth = 1;

      // frame (left, top, bottom)
      ctx.strokeStyle = "#333";
      ctx.beginPath();
      ctx.moveTo(a.left - 0.5, a.top - 0.5);
      ctx.lineTo(a.left - 0.5, a.bottom + 0.5);
      ctx.moveTo(a.left - 0.5, a.top - 0.5);
      ctx.lineTo(a.right, a.top - 0.5);
      ctx.moveTo(a.left - 0.5, a.bottom + 0.5);
      ctx.lineTo(a.right, a.bottom + 0.5);
      ctx.stroke();

      // x ticks (top and bottom, outward)
      for (const t of X_TICKS) {
        const major = X_TICK_LABELS.includes(t);
        const len = major ? 9 : 5;
        const px = Math.round(xs.getPixelForValue(t)) - 0.5;
        ctx.strokeStyle = major ? "#222" : "#777";
        ctx.beginPath();
        ctx.moveTo(px, a.bottom + 0.5);
        ctx.lineTo(px, a.bottom + 0.5 + len);
        ctx.moveTo(px, a.top - 0.5);
        ctx.lineTo(px, a.top - 0.5 - len);
        ctx.stroke();
      }

      // y ticks (left and right, outward)
      const yTick = (v: number, major: boolean) => {
        const py = Math.round(ys.getPixelForValue(v)) - 0.5;
        const len = major ? 20 : 9;
        ctx.strokeStyle = major ? "#222" : "#777";
        ctx.beginPath();
        ctx.moveTo(a.left - 0.5, py);
        ctx.lineTo(a.left - 0.5 - len, py);
        ctx.moveTo(a.right, py);
        ctx.lineTo(a.right + len, py);
        ctx.stroke();
      };
      for (const d of Y_DECADES) {
        yTick(Math.pow(10, d), true);
        if (d < -1) for (const m of Y_MINOR_MULTIPLIERS) yTick(m * Math.pow(10, d), false);
      }

      ctx.fillStyle = "#000";
      // x tick labels
      ctx.font = `35px ${FONT}`;
      ctx.textAlign = "center";
      ctx.textBaseline = "alphabetic";
      for (const t of X_TICK_LABELS) ctx.fillText(String(t), xs.getPixelForValue(t), a.bottom + 54);

      // y tick labels 10^n
      for (const d of Y_DECADES) {
        const py = ys.getPixelForValue(Math.pow(10, d));
        let base = py + 14;
        base = Math.max(base, a.top + 24);
        base = Math.min(base, a.bottom - 1.5);
        drawRuns(ctx, [{ t: "10" }, { t: "\u2212" + String(-d), k: "sup" }], a.left - 27, base, 35, "right", 23, 11, 0);
      }

      // axis titles
      const cx = (a.left + a.right) / 2;
      drawRuns(ctx, X_TITLE, cx, a.bottom + 92, 37, "center", 22, 12, 0);
      ctx.save();
      ctx.translate(39, (a.top + a.bottom) / 2 - 10);
      ctx.rotate(-Math.PI / 2);
      drawRuns(ctx, Y_TITLE, 0, 0, 37, "center", 22, 12, 0);
      ctx.restore();

      // main title
      drawRuns(ctx, title, cx, a.top - 17, 45, "center", 28, 0, 8);
      ctx.restore();
    },
  };
}

type SeriesDef = { from: number; values: (number | null)[] };

function Panel({ title, series, height }: { title: Run[]; series: SeriesDef[]; height: number }) {
  const ref = useRef<HTMLCanvasElement | null>(null);
  useEffect(() => {
    if (!ref.current) return;
    const chart = new Chart(ref.current, {
      type: "line",
      data: {
        datasets: series.map((s, i) => ({
          data: toPoints(s.from, s.values),
          borderColor: SERIES_COLORS[i],
          backgroundColor: SERIES_COLORS[i],
          borderWidth: 1,
          pointRadius: 0,
          tension: 0,
          fill: false,
          spanGaps: false,
        })),
      },
      options: {
        responsive: false,
        animation: false,
        devicePixelRatio: 1,
        events: [],
        layout: { padding: { left: 161, right: 7, top: 53, bottom: height - 514 } },
        plugins: { legend: { display: false }, tooltip: { enabled: false }, title: { display: false } },
        scales: {
          x: { type: "linear", min: X_MIN, max: X_MAX, display: false },
          y: { type: "logarithmic", min: Y_MIN, max: Y_MAX, display: false },
        },
      } as any,
      plugins: [makeDecor(title)],
    });
    return () => chart.destroy();
  }, []);
  return <canvas ref={ref} width={1204} height={height} style={{ display: "block" }} />;
}

const TOP_SERIES: SeriesDef[] = [
  { from: 200, values: TOA },
  { from: N2_RED_FROM, values: N2_RED },
  { from: N2_YELLOW_FROM, values: N2_YELLOW },
  { from: N2_GREEN_FROM, values: N2_GREEN },
  { from: N2_CYAN_FROM, values: N2_CYAN },
  { from: N2_BLUE_FROM, values: N2_BLUE },
  { from: N2_PURPLE_FROM, values: N2_PURPLE },
];

const BOTTOM_SERIES: SeriesDef[] = [
  { from: 200, values: TOA },
  { from: CO2_RED_FROM, values: CO2_RED },
  { from: CO2_YELLOW_FROM, values: CO2_YELLOW },
  { from: CO2_GREEN_FROM, values: CO2_GREEN },
  { from: CO2_CYAN_FROM, values: CO2_CYAN },
  { from: CO2_BLUE_FROM, values: CO2_BLUE },
  { from: CO2_PURPLE_FROM, values: CO2_PURPLE },
];

export default function App() {
  return (
    <div style={{ position: "fixed", left: 8, top: 8, width: 1204 }}>
      <Panel title={TITLE_TOP} series={TOP_SERIES} height={641} />
      <Panel title={TITLE_BOTTOM} series={BOTTOM_SERIES} height={618} />
    </div>
  );
}
